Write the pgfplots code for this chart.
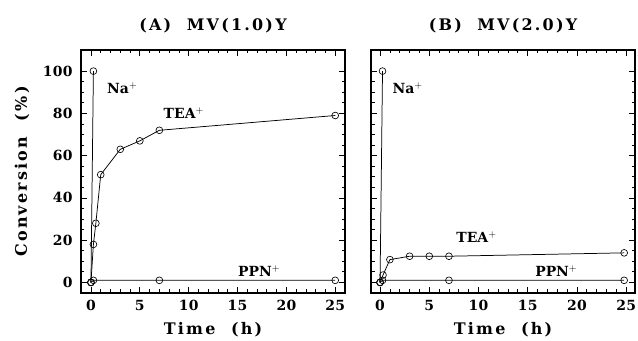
\documentclass[border=0pt]{standalone}
\usepackage{pgfplots}
\pgfplotsset{compat=1.18}
\usepackage{fontspec}
\setmainfont{DejaVu Serif}
\newfontfamily\tfont{DejaVu Serif Bold}[LetterSpace=2]
\newfontfamily\lfont{DejaVu Serif Bold}[LetterSpace=14]
\newfontfamily\afont{DejaVu Serif Bold}
\begin{document}
\begin{tikzpicture}
\pgfplotsset{
  pl/.style={black, line width=0.75pt, mark=o, mark size=3.4bp, mark options={line width=0.65pt}},
  every axis/.append style={
    scale only axis, width=264bp, height=243bp,
    ymin=-5, ymax=110,
    xtick={0,5,...,25}, minor x tick num=4,
    ytick={0,20,...,100}, minor y tick num=3,
    tick align=inside, xtick pos=both, ytick pos=both,
    major tick length=6bp, minor tick length=3.5bp,
    axis line style={line width=1.9pt},
    every tick/.style={black, line width=0.8pt},
    tick label style={font=\tfont\fontsize{14}{16}\selectfont},
    xticklabel style={yshift=-4bp},
    yticklabel style={xshift=-5bp},
    title style={font=\lfont\fontsize{16}{18}\selectfont, at={(axis description cs:0.5,1)}, anchor=south, yshift=8bp},
    /pgf/number format/assume math mode=true,
    xlabel={Time\ \ (h)},
    every axis x label/.style={at={(axis description cs:0.5,-0.152)}, anchor=center, font=\lfont\fontsize{16}{18}\selectfont},
    every axis y label/.style={at={(axis description cs:-0.2235,0.5)}, rotate=90, anchor=center, font=\lfont\fontsize{16}{18}\selectfont},
    clip=false,
  }
}
\begin{axis}[name=A, xmin=-1.02, xmax=26.0, title={(A)\ \ MV(1.0)Y}, ylabel={Conversion\ \ (\%)}]
\addplot[pl] coordinates {(0,0) (0.25,100)};
\addplot[pl] coordinates {(0,0) (0.25,18) (0.5,28) (1,51) (3,63) (5,67) (7,72) (25,79)};
\addplot[pl] coordinates {(0,0) (0.25,1) (7,1) (25,1)};
\node[font=\afont\fontsize{14}{16}\selectfont] at (axis cs:3.2,92) {Na$^{+}$};
\node[font=\afont\fontsize{14}{16}\selectfont] at (axis cs:9.5,80) {TEA$^{+}$};
\node[font=\afont\fontsize{14}{16}\selectfont] at (axis cs:17.2,5.5) {PPN$^{+}$};
\end{axis}
\begin{axis}[name=B, at={(290bp,0)}, anchor=south west, xmin=-0.92, xmax=25.9, title={(B)\ \ MV(2.0)Y}, yticklabels={}]
\addplot[pl] coordinates {(0,0) (0.25,100)};
\addplot[pl] coordinates {(0,0) (0.3,3.5) (1,10.8) (3,12.4) (5,12.4) (7,12.4) (24.8,14)};
\addplot[pl] coordinates {(0,0) (0.25,1) (7,1) (24.8,1)};
\node[font=\afont\fontsize{14}{16}\selectfont] at (axis cs:2.8,92) {Na$^{+}$};
\node[font=\afont\fontsize{14}{16}\selectfont] at (axis cs:9.8,21.5) {TEA$^{+}$};
\node[font=\afont\fontsize{14}{16}\selectfont] at (axis cs:17.9,5.5) {PPN$^{+}$};
\end{axis}
\pgfresetboundingbox
\path (A.south west) ++(-81bp,-48bp) rectangle ++(638bp,341bp);
\end{tikzpicture}
\end{document}
